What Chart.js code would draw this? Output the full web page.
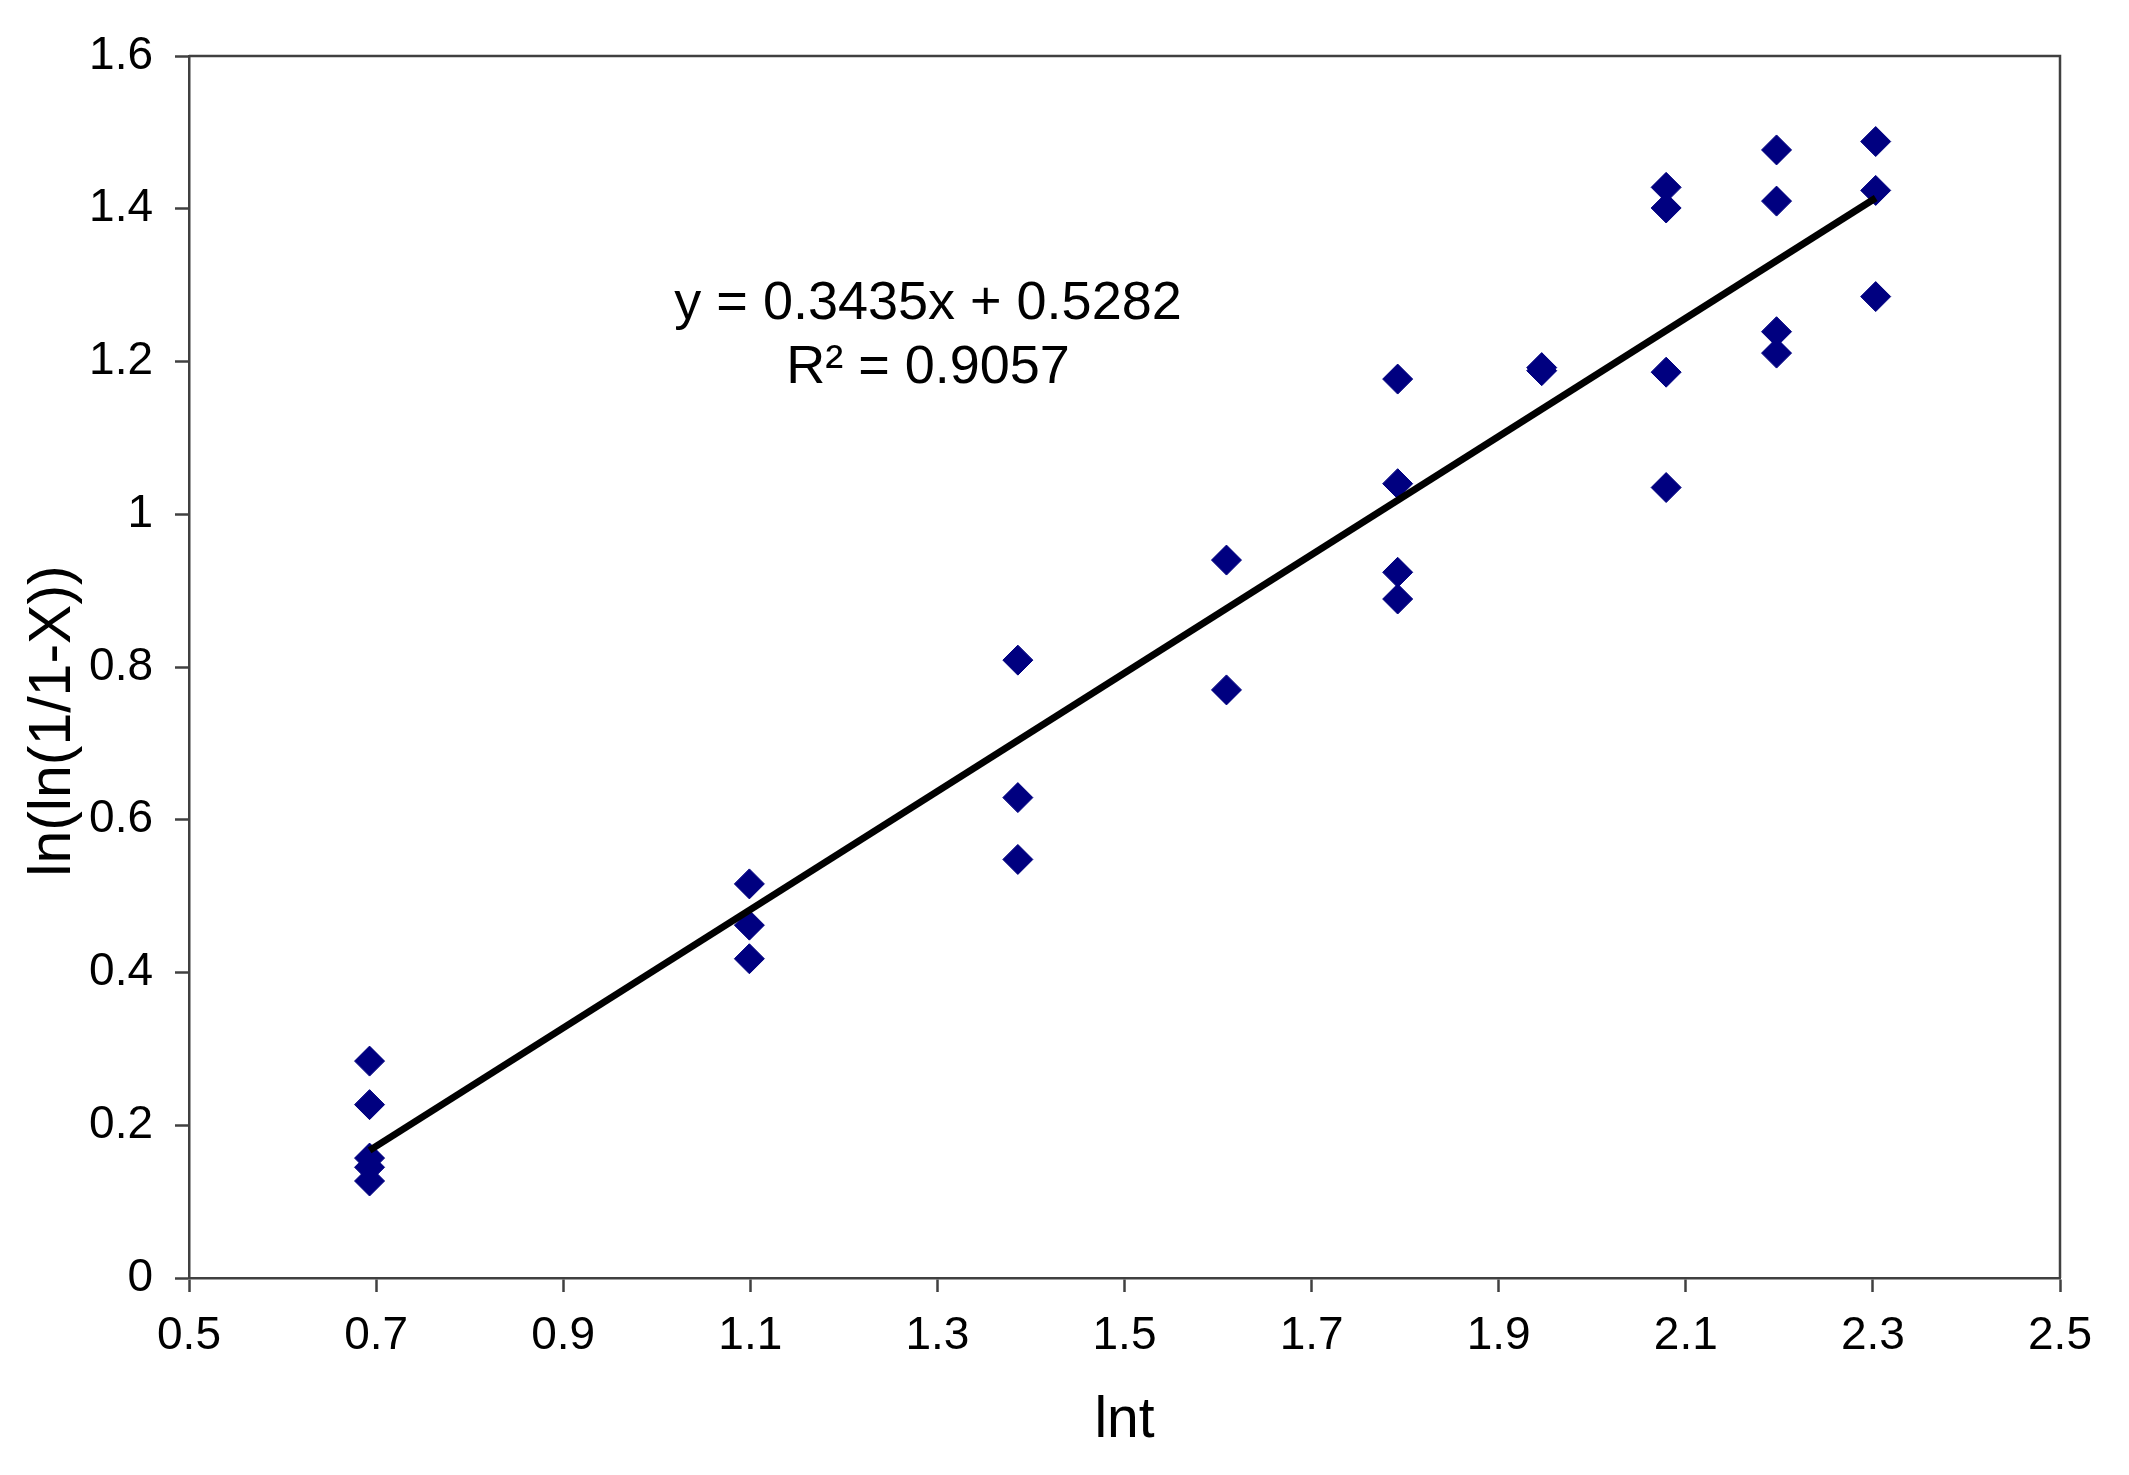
<!DOCTYPE html>
<html>
<head>
<meta charset="utf-8">
<script src="https://cdn.jsdelivr.net/npm/chart.js@4.4.1/dist/chart.umd.min.js"></script>
<style>
  body { margin: 0; background: #fff; }
  #wrap { width: 2129px; height: 1475px; }
</style>
</head>
<body>
<div id="wrap"><canvas id="myChart"></canvas></div>
<script>
// lnt values (ln of time) and the measured ln(ln(1/1-X)) points
let lnt = [0.693, 0.693, 0.693, 0.693, 0.693,
           1.099, 1.099, 1.099,
           1.386, 1.386, 1.386,
           1.609, 1.609,
           1.792, 1.792, 1.792, 1.792,
           1.946, 1.946,
           2.079, 2.079, 2.079, 2.079,
           2.197, 2.197, 2.197, 2.197,
           2.303, 2.303, 2.303];
let lnln = [0.284, 0.227, 0.157, 0.145, 0.127,
            0.516, 0.462, 0.418,
            0.809, 0.629, 0.548,
            0.940, 0.770,
            1.177, 1.040, 0.924, 0.889,
            1.192, 1.188,
            1.428, 1.401, 1.186, 1.035,
            1.477, 1.410, 1.239, 1.211,
            1.488, 1.424, 1.285];
let xTicks = [0.5, 0.7, 0.9, 1.1, 1.3, 1.5, 1.7, 1.9, 2.1, 2.3, 2.5];
let eqLines = ['y = 0.3435x + 0.5282', 'R\u00B2 = 0.9057'];
let yTitle = 'ln(ln(1/1-X))';

let points = lnt.map((x, i) => ({ x: x, y: lnln[i] }));

// least squares trend line over the data range
let n = lnt.length;
let mx = lnt.reduce((a, b) => a + b, 0) / n;
let my = lnln.reduce((a, b) => a + b, 0) / n;
let sxy = 0, sxx = 0;
lnt.forEach((x, i) => { sxy += (x - mx) * (lnln[i] - my); sxx += (x - mx) * (x - mx); });
let slope = sxy / sxx;
let icept = my - slope * mx;
let xMin = Math.min(...lnt), xMax = Math.max(...lnt);
let trend = [{ x: xMin, y: slope * xMin + icept }, { x: xMax, y: slope * xMax + icept }];

const FONT = 'Liberation Sans, Arial, sans-serif';
const AXIS = '#404040';

// frame on top/right, y title (sits a bit low like excel does) and equation text
const extras = {
  id: 'extras',
  afterDraw(chart) {
    const c = chart.ctx, a = chart.chartArea;
    c.save();
    c.strokeStyle = AXIS;
    c.lineWidth = 2.5;
    c.beginPath();
    c.moveTo(a.left, a.top);
    c.lineTo(a.right, a.top);
    c.lineTo(a.right, a.bottom);
    c.stroke();

    c.fillStyle = '#000';
    c.textAlign = 'center';
    c.textBaseline = 'middle';
    c.font = '54px ' + FONT;
    const cx = chart.scales.x.getPixelForValue(1.29);
    c.fillText(eqLines[0], cx, chart.scales.y.getPixelForValue(1.275));
    c.fillText(eqLines[1], cx, chart.scales.y.getPixelForValue(1.192));

    c.font = '59px ' + FONT;
    c.translate(54, (a.top + a.bottom) / 2 + 54);
    c.rotate(-Math.PI / 2);
    c.fillText(yTitle, 0, 0);
    c.restore();
  }
};

let ctx = document.getElementById('myChart').getContext('2d');
let myChart = new Chart(ctx, {
  type: 'scatter',
  data: {
    datasets: [{
      type: 'line',
      data: trend,
      borderColor: '#000',
      borderWidth: 7,
      pointRadius: 0,
      fill: false
    }, {
      data: points,
      pointStyle: 'rectRot',
      pointRadius: 15,
      pointBackgroundColor: '#000080',
      pointBorderColor: '#000080',
      pointBorderWidth: 1
    }]
  },
  options: {
    responsive: true,
    maintainAspectRatio: false,
    animation: false,
    layout: { padding: { left: 0, right: 69, top: 56, bottom: 0 } },
    plugins: { legend: { display: false }, tooltip: { enabled: false } },
    scales: {
      x: {
        type: 'linear',
        min: 0.5,
        max: 2.5,
        afterBuildTicks: (s) => { s.ticks = xTicks.map(v => ({ value: v })); },
        afterFit: (s) => { s.height = 197; },
        grid: { drawOnChartArea: false, drawTicks: true, tickLength: 14, tickColor: AXIS, tickWidth: 2.5 },
        border: { color: AXIS, width: 2.5 },
        ticks: {
          color: '#000',
          padding: 17,
          font: { family: FONT, size: 46 },
          callback: (v) => Number(v.toFixed(1)).toString()
        },
        title: {
          display: true,
          text: 'lnt',
          color: '#000',
          font: { family: FONT, size: 57 },
          padding: { top: 0, bottom: 20 },
          align: 'center'
        }
      },
      y: {
        type: 'linear',
        min: 0,
        max: 1.6,
        ticks: {
          stepSize: 0.2,
          color: '#000',
          padding: 22,
          font: { family: FONT, size: 46 },
          callback: (v) => Number(v.toFixed(1)).toString()
        },
        afterFit: (s) => { s.width = 189; },
        grid: { drawOnChartArea: false, drawTicks: true, tickLength: 14, tickColor: AXIS, tickWidth: 2.5 },
        border: { color: AXIS, width: 2.5 }
      }
    }
  },
  plugins: [extras]
});
</script>
</body>
</html>
